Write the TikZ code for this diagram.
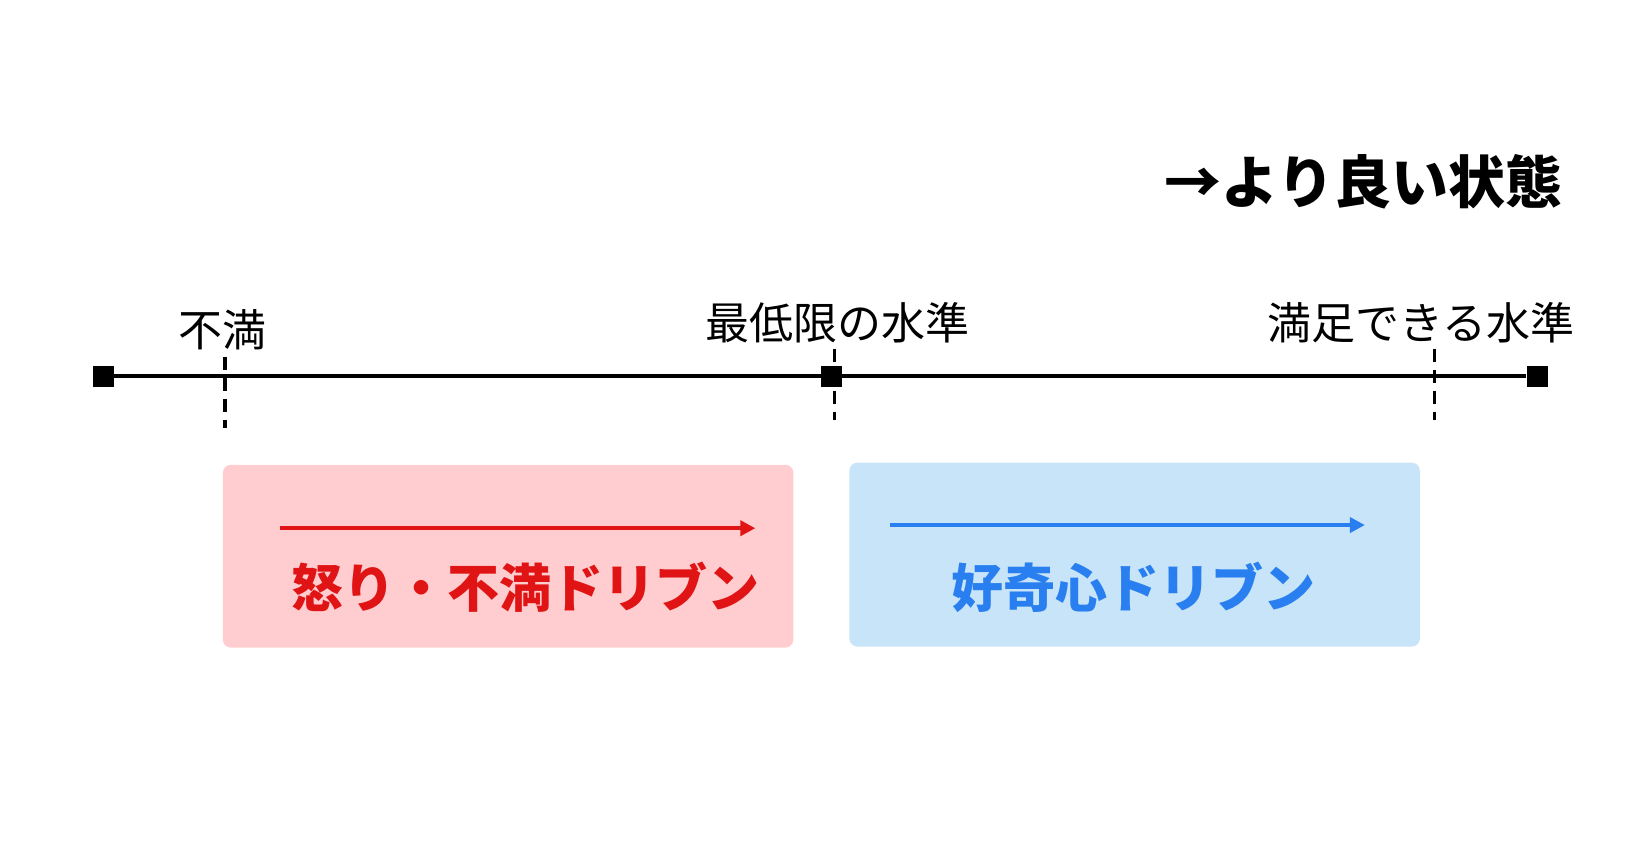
\documentclass[tikz,border=0pt]{standalone}
\usepackage{fontspec}
\newfontfamily\jp{Noto Sans CJK JP}
\usetikzlibrary{arrows.meta}
\definecolor{rtxt}{HTML}{E01414}
\definecolor{rbox}{HTML}{FFCDCF}
\definecolor{btxt}{HTML}{2A7FF0}
\definecolor{bbox}{HTML}{C8E4F8}
\begin{document}
\begin{tikzpicture}[x=1.0564pt,y=-1.0564pt,
  sq/.style={fill=black,minimum size=21pt,inner sep=0pt},
  tick/.style={line width=3.5pt,dash pattern=on 13pt off 8pt},
  lab/.style={font=\jp\fontsize{44}{48}\selectfont},
  box/.style={rounded corners=8pt,inner sep=0pt},
  btext/.style={font=\jp\bfseries\fontsize{52}{56}\selectfont}]
\useasboundingbox (0,0) rectangle (1560,816);
\node[font=\jp\bfseries\fontsize{57}{60}\selectfont,anchor=east] (title) at (1482,172) {→より良い状態};
\node[sq] (a) at (98,356) {};
\node[sq] (b) at (787,356) {};
\node[sq] (c) at (1455,356) {};
\draw[line width=4.2pt] (a) -- (b) -- (c);
\coordinate (t1a) at (213,338); \coordinate (t1b) at (213,405);
\coordinate (t2a) at (790,330); \coordinate (t2b) at (790,398);
\coordinate (t3a) at (1358,330); \coordinate (t3b) at (1358,398);
\draw[tick] (t1a) -- (t1b);
\draw[tick] (t2a) -- (t2b);
\draw[tick] (t3a) -- (t3b);
\node[lab] (l1) at (211,312) {不満};
\node[lab] (l2) at (793,305) {最低限の水準};
\node[lab] (l3) at (1345,305) {満足できる水準};
\fill[rbox,box] (211,440) rectangle (751,613);
\fill[bbox,box] (804,438) rectangle (1344,612);
\coordinate (ra) at (265,500); \coordinate (rb) at (715,500);
\coordinate (ba) at (842,497); \coordinate (bb) at (1292,497);
\draw[rtxt,line width=4pt,-{Triangle[length=15pt,width=15pt]}] (ra) -- (rb);
\draw[btxt,line width=4pt,-{Triangle[length=15pt,width=15pt]}] (ba) -- (bb);
\node[btext,text=rtxt] (rt) at (497,556) {怒り・不満ドリブン};
\node[btext,text=btxt] (bt) at (1073,556) {好奇心ドリブン};
\end{tikzpicture}
\end{document}
